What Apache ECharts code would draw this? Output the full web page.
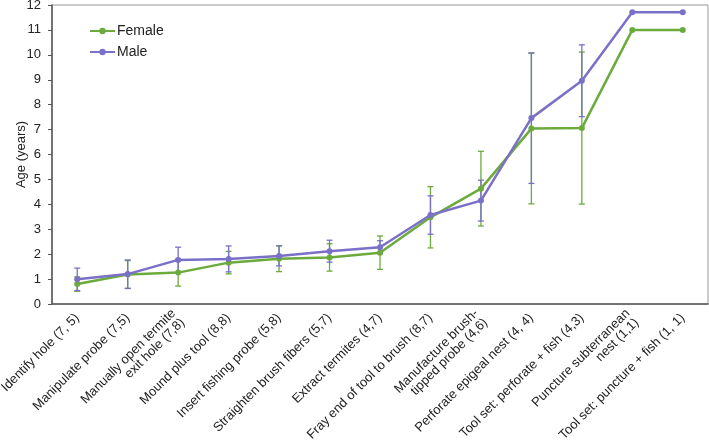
<!DOCTYPE html>
<html>
<head>
<meta charset="utf-8">
<script src="https://cdn.jsdelivr.net/npm/echarts@6/dist/echarts.min.js"></script>
<style>html,body{margin:0;padding:0;background:#fff}#c{width:709px;height:446px}</style>
</head>
<body>
<div id="c"></div>
<script>
var categories = [
  "Identify hole (7, 5)",
  "Manipulate probe (7,5)",
  "Manually open termite\nexit hole (7,8)",
  "Mound plus tool (8,8)",
  "Insert fishing probe (5,8)",
  "Straighten brush fibers (5,7)",
  "Extract termites (4,7)",
  "Fray end of tool to brush (8,7)",
  "Manufacture brush-\ntipped probe (4,6)",
  "Perforate epigeal nest (4, 4)",
  "Tool set: perforate + fish (4,3)",
  "Puncture subterranean\nnest (1,1)",
  "Tool set: puncture + fish (1, 1)"
];
var femaleMean = [0.80, 1.18, 1.26, 1.66, 1.82, 1.87, 2.06, 3.48, 4.63, 7.04, 7.06, 11.0, 11.0];
var femaleSD   = [0.29, 0.56, 0.54, 0.45, 0.52, 0.55, 0.67, 1.23, 1.50, 3.02, 3.05, 0, 0];
var maleMean   = [0.99, 1.20, 1.77, 1.81, 1.93, 2.12, 2.28, 3.57, 4.15, 7.46, 8.96, 11.71, 11.71];
var maleSD     = [0.45, 0.57, 0.51, 0.52, 0.40, 0.44, 0.26, 0.77, 0.82, 2.62, 1.44, 0, 0];
var yTicks = [0, 12, 1];

var GREEN = '#6BAA3D', PURPLE = '#7A70C8';

function errData(mean, sd) {
  var out = [];
  for (var i = 0; i < mean.length; i++) {
    if (sd[i] > 0) out.push([i, mean[i] - sd[i], mean[i] + sd[i]]);
  }
  return out;
}
function errSeries(name, mean, sd, color, z) {
  return {
    type: 'custom', name: name + ' err', z: z, silent: true,
    data: errData(mean, sd),
    renderItem: function (params, api) {
      var lo = api.coord([api.value(0), api.value(1)]);
      var hi = api.coord([api.value(0), api.value(2)]);
      var w = 3;
      var st = { stroke: color, lineWidth: 1.3 };
      return { type: 'group', children: [
        { type: 'line', shape: { x1: lo[0], y1: lo[1], x2: hi[0], y2: hi[1] }, style: st },
        { type: 'line', shape: { x1: lo[0] - w, y1: lo[1], x2: lo[0] + w, y2: lo[1] }, style: st },
        { type: 'line', shape: { x1: hi[0] - w, y1: hi[1], x2: hi[0] + w, y2: hi[1] }, style: st }
      ]};
    },
    encode: { x: 0, y: [1, 2] }
  };
}

var chart = echarts.init(document.getElementById('c'));
chart.setOption({
  animation: false,
  grid: { left: 52, right: 1, top: 5, bottom: 142, containLabel: false, outerBoundsMode: 'none',
          show: true, borderColor: '#999', borderWidth: 1 },
  legend: {
    data: ['Female', 'Male'], orient: 'vertical', left: 84, top: 19,
    itemWidth: 25, itemHeight: 8, itemGap: 7,
    textStyle: { fontFamily: 'Liberation Sans', fontSize: 14, color: '#222', padding: [0, 0, 0, -3] }
  },
  xAxis: {
    type: 'category', data: categories, boundaryGap: true,
    axisLine: { lineStyle: { color: '#555', width: 1.5 } },
    axisTick: { show: false },
    axisLabel: { rotate: 45, interval: 0, margin: 12, fontFamily: 'Liberation Sans', fontSize: 13, color: '#222', lineHeight: 13 }
  },
  yAxis: {
    type: 'value', min: yTicks[0], max: yTicks[1], interval: yTicks[2],
    name: 'Age (years)', nameLocation: 'middle', nameGap: 24, nameRotate: 90, nameMoveOverlap: false,
    nameTextStyle: { fontFamily: 'Liberation Sans', fontSize: 13, color: '#222' },
    axisLine: { show: true, lineStyle: { color: '#555', width: 1.5 } },
    axisTick: { show: true, length: 4, lineStyle: { color: '#555' } },
    splitLine: { show: false },
    axisLabel: { fontFamily: 'Liberation Sans', fontSize: 13, color: '#222', margin: 11 }
  },
  series: [
    errSeries('Female', femaleMean, femaleSD, GREEN, 1),
    errSeries('Male', maleMean, maleSD, PURPLE, 2),
    { name: 'Female', type: 'line', data: femaleMean, z: 3, symbol: 'circle', symbolSize: 6,
      lineStyle: { color: GREEN, width: 2.5 }, itemStyle: { color: GREEN } },
    { name: 'Male', type: 'line', data: maleMean, z: 4, symbol: 'circle', symbolSize: 6,
      lineStyle: { color: PURPLE, width: 2.5 }, itemStyle: { color: PURPLE } }
  ]
});
</script>
</body>
</html>
